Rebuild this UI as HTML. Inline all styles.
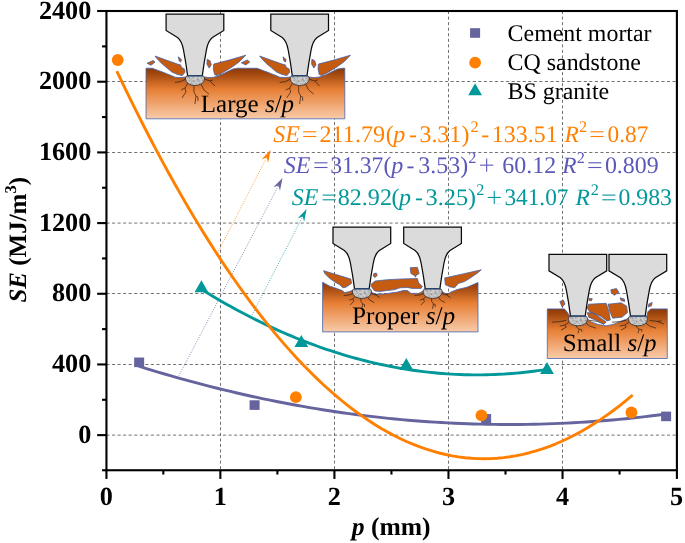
<!DOCTYPE html>
<html><head><meta charset="utf-8"><title>SE vs p</title>
<style>html,body{margin:0;padding:0;background:#fff}body{width:685px;height:543px;overflow:hidden;font-family:"Liberation Serif",serif}svg{display:block;will-change:transform}svg text{text-rendering:geometricPrecision}</style>
</head><body>
<svg width="685" height="543" viewBox="0 0 685 543">
<defs>
<linearGradient id="rock" x1="0" y1="0" x2="0" y2="1">
<stop offset="0" stop-color="#8A3A0C"/>
<stop offset="0.12" stop-color="#A4490F"/>
<stop offset="0.42" stop-color="#E77F35"/>
<stop offset="1" stop-color="#F8CBAA"/>
</linearGradient>
<pattern id="crush" width="10" height="10" patternUnits="userSpaceOnUse" patternTransform="rotate(17)">
<rect width="10" height="10" fill="#CBCBCB"/>
<circle cx="4.5" cy="5.6" r="0.41" fill="#9a9a9a"/>
<circle cx="5.1" cy="5.9" r="0.50" fill="#6e6e6e"/>
<circle cx="4.8" cy="6.1" r="0.31" fill="#6e6e6e"/>
<circle cx="3.0" cy="0.9" r="0.52" fill="#9a9a9a"/>
<circle cx="6.3" cy="6.0" r="0.54" fill="#f4f4f4"/>
<circle cx="6.5" cy="6.2" r="0.45" fill="#6e6e6e"/>
<circle cx="8.3" cy="0.6" r="0.33" fill="#5a5a5a"/>
<circle cx="2.4" cy="0.3" r="0.37" fill="#f4f4f4"/>
<circle cx="5.9" cy="2.0" r="0.45" fill="#6e6e6e"/>
<circle cx="5.0" cy="6.6" r="0.46" fill="#f4f4f4"/>
<circle cx="4.1" cy="5.5" r="0.30" fill="#9a9a9a"/>
<circle cx="2.5" cy="7.6" r="0.36" fill="#ededed"/>
<circle cx="0.7" cy="7.7" r="0.31" fill="#f4f4f4"/>
<circle cx="2.9" cy="0.7" r="0.51" fill="#5a5a5a"/>
<circle cx="0.0" cy="2.1" r="0.41" fill="#5a5a5a"/>
<circle cx="9.8" cy="4.0" r="0.43" fill="#5a5a5a"/>
<circle cx="2.0" cy="6.7" r="0.30" fill="#8a8a8a"/>
<circle cx="3.3" cy="9.6" r="0.53" fill="#9a9a9a"/>
<circle cx="1.3" cy="7.1" r="0.30" fill="#5a5a5a"/>
<circle cx="8.0" cy="1.8" r="0.33" fill="#ededed"/>
<circle cx="5.1" cy="9.9" r="0.32" fill="#9a9a9a"/>
<circle cx="6.4" cy="1.2" r="0.55" fill="#f4f4f4"/>
<circle cx="0.0" cy="8.6" r="0.44" fill="#9a9a9a"/>
<circle cx="10.0" cy="0.2" r="0.39" fill="#6e6e6e"/>
<circle cx="8.5" cy="6.4" r="0.29" fill="#5a5a5a"/>
<circle cx="1.5" cy="4.4" r="0.49" fill="#5a5a5a"/>
<circle cx="3.3" cy="3.0" r="0.30" fill="#5a5a5a"/>
<circle cx="2.1" cy="6.4" r="0.44" fill="#5a5a5a"/>
<circle cx="3.7" cy="4.5" r="0.41" fill="#ededed"/>
<circle cx="5.7" cy="8.7" r="0.45" fill="#6e6e6e"/>
<circle cx="3.1" cy="2.3" r="0.35" fill="#ededed"/>
<circle cx="1.9" cy="7.4" r="0.33" fill="#ededed"/>
<circle cx="9.5" cy="8.8" r="0.30" fill="#ededed"/>
<circle cx="0.5" cy="1.1" r="0.54" fill="#ededed"/>
<circle cx="2.4" cy="7.0" r="0.39" fill="#8a8a8a"/>
<circle cx="9.0" cy="4.9" r="0.33" fill="#ededed"/>
<circle cx="7.2" cy="0.7" r="0.41" fill="#6e6e6e"/>
<circle cx="6.5" cy="6.2" r="0.36" fill="#5a5a5a"/>
<circle cx="9.2" cy="2.0" r="0.30" fill="#5a5a5a"/>
<circle cx="4.1" cy="2.5" r="0.33" fill="#5a5a5a"/>
<circle cx="3.7" cy="5.7" r="0.30" fill="#6e6e6e"/>
<circle cx="1.4" cy="4.5" r="0.46" fill="#8a8a8a"/>
<circle cx="6.9" cy="5.8" r="0.44" fill="#6e6e6e"/>
<circle cx="9.2" cy="4.7" r="0.47" fill="#8a8a8a"/>
<circle cx="9.6" cy="0.2" r="0.30" fill="#7a7a7a"/>
<circle cx="0.7" cy="3.1" r="0.55" fill="#6e6e6e"/>
<circle cx="0.8" cy="5.5" r="0.29" fill="#7a7a7a"/>
<circle cx="9.4" cy="7.4" r="0.49" fill="#6e6e6e"/>
<circle cx="9.2" cy="3.5" r="0.41" fill="#7a7a7a"/>
<circle cx="0.8" cy="8.6" r="0.29" fill="#9a9a9a"/>
<circle cx="5.0" cy="0.1" r="0.38" fill="#7a7a7a"/>
<circle cx="5.8" cy="6.1" r="0.30" fill="#5a5a5a"/>
<circle cx="1.2" cy="2.6" r="0.48" fill="#f4f4f4"/>
<circle cx="3.9" cy="7.4" r="0.40" fill="#ededed"/>
<circle cx="4.6" cy="5.4" r="0.48" fill="#ededed"/>
<circle cx="0.3" cy="6.0" r="0.29" fill="#f4f4f4"/>
<circle cx="9.6" cy="1.1" r="0.45" fill="#9a9a9a"/>
<circle cx="9.2" cy="2.6" r="0.38" fill="#5a5a5a"/>
<circle cx="1.4" cy="6.1" r="0.33" fill="#ededed"/>
<circle cx="9.1" cy="6.6" r="0.41" fill="#f4f4f4"/>
<circle cx="2.4" cy="4.0" r="0.33" fill="#8a8a8a"/>
<circle cx="4.3" cy="8.1" r="0.52" fill="#6e6e6e"/>
<circle cx="3.8" cy="5.8" r="0.34" fill="#8a8a8a"/>
<circle cx="1.3" cy="3.5" r="0.29" fill="#9a9a9a"/>
<circle cx="0.6" cy="9.8" r="0.33" fill="#9a9a9a"/>
<circle cx="4.5" cy="2.8" r="0.50" fill="#6e6e6e"/>
<circle cx="3.8" cy="5.2" r="0.37" fill="#7a7a7a"/>
<circle cx="8.4" cy="9.8" r="0.37" fill="#f4f4f4"/>
<circle cx="8.3" cy="2.8" r="0.29" fill="#ededed"/>
<circle cx="7.1" cy="5.7" r="0.46" fill="#8a8a8a"/>
</pattern>
<g id="cutter">
<path d="M0.3,0 H58 V16.5 L46.6,23.4 C43.2,26 41.6,30.4 40.6,36 L38.4,48.5 L36.5,61.7 H21.8 L19.9,48.5 L17.7,36 C16.7,30.4 15.1,26 11.7,23.4 L0.3,16.5 Z" fill="#DBDBDB" stroke="#0a0a0a" stroke-width="1.25" stroke-linejoin="miter"/>
<path d="M21.4,61.9 H37 C38.5,62.3 38.8,63.6 38.7,65 C38.3,69 34.4,71.4 29.2,71.4 C24,71.4 20.1,69 19.7,65 C19.6,63.6 19.9,62.3 21.4,61.9 Z" fill="url(#crush)" stroke="#2c2c2c" stroke-width="0.85"/>
<path d="M21.4,61.8 H36.9" stroke="#2F5597" stroke-width="1" fill="none"/>
</g>
</defs>
<rect width="685" height="543" fill="#fff"/>
<g stroke="#5a5a5a" stroke-width="0.85" stroke-dasharray="3.1 2.45" fill="none">
<line x1="220.5" y1="11" x2="220.5" y2="470.25"/>
<line x1="334.5" y1="11" x2="334.5" y2="470.25"/>
<line x1="448.5" y1="11" x2="448.5" y2="470.25"/>
<line x1="562.5" y1="11" x2="562.5" y2="470.25"/>
<line x1="106.45" y1="435.13" x2="676.9" y2="435.13"/>
<line x1="106.45" y1="364.5" x2="676.9" y2="364.5"/>
<line x1="106.45" y1="293.5" x2="676.9" y2="293.5"/>
<line x1="106.45" y1="223.09" x2="676.9" y2="223.09"/>
<line x1="106.45" y1="152.5" x2="676.9" y2="152.5"/>
<line x1="106.45" y1="81.5" x2="676.9" y2="81.5"/>
</g>
<line x1="217.6" y1="253" x2="266.71" y2="157.46" stroke="#FF8000" stroke-width="0.75" stroke-dasharray="1 1.4"/>
<path d="M270.6,149.9 L268.18,162.71 L266.71,157.46 L261.59,159.33 Z" fill="#FF8000"/>
<line x1="178.6" y1="376.2" x2="278.55" y2="185.53" stroke="#65649E" stroke-width="0.75" stroke-dasharray="1 1.4"/>
<path d="M282.5,178 L279.97,190.79 L278.55,185.53 L273.42,187.35 Z" fill="#65649E"/>
<line x1="251.9" y1="315.1" x2="302.7" y2="216.56" stroke="#029899" stroke-width="0.75" stroke-dasharray="1 1.4"/>
<path d="M306.6,209 L304.16,221.81 L302.7,216.56 L297.58,218.41 Z" fill="#029899"/>
<polyline points="138.24,365.96 144.82,368.02 151.41,370.05 158,372.03 164.58,373.99 171.17,375.9 177.76,377.78 184.35,379.62 190.93,381.42 197.52,383.19 204.11,384.92 210.69,386.61 217.28,388.26 223.87,389.88 230.45,391.46 237.04,393.01 243.63,394.52 250.22,395.99 256.8,397.42 263.39,398.82 269.98,400.18 276.56,401.5 283.15,402.79 289.74,404.04 296.32,405.25 302.91,406.42 309.5,407.56 316.08,408.66 322.67,409.73 329.26,410.75 335.85,411.74 342.43,412.7 349.02,413.61 355.61,414.49 362.19,415.33 368.78,416.14 375.37,416.91 381.95,417.64 388.54,418.33 395.13,418.99 401.72,419.61 408.3,420.19 414.89,420.74 421.48,421.25 428.06,421.72 434.65,422.16 441.24,422.55 447.82,422.92 454.41,423.24 461,423.53 467.59,423.78 474.17,423.99 480.76,424.17 487.35,424.31 493.93,424.41 500.52,424.48 507.11,424.51 513.69,424.5 520.28,424.45 526.87,424.37 533.45,424.25 540.04,424.09 546.63,423.9 553.22,423.67 559.8,423.4 566.39,423.1 572.98,422.76 579.56,422.38 586.15,421.97 592.74,421.51 599.32,421.03 605.91,420.5 612.5,419.94 619.09,419.34 625.67,418.7 632.26,418.03 638.85,417.32 645.43,416.57 652.02,415.78 658.61,414.96 665.19,414.1" fill="none" stroke="#65649E" stroke-width="2.9" stroke-linejoin="round"/>
<polyline points="200.97,289.06 205.29,291.72 209.61,294.34 213.93,296.92 218.25,299.46 222.57,301.96 226.89,304.41 231.21,306.83 235.53,309.2 239.85,311.53 244.17,313.81 248.49,316.06 252.81,318.26 257.13,320.42 261.45,322.54 265.77,324.61 270.09,326.65 274.41,328.64 278.73,330.59 283.05,332.5 287.37,334.37 291.69,336.19 296.01,337.97 300.33,339.71 304.65,341.41 308.97,343.07 313.29,344.68 317.61,346.25 321.93,347.78 326.25,349.27 330.57,350.72 334.89,352.12 339.21,353.48 343.53,354.8 347.85,356.08 352.17,357.31 356.49,358.51 360.81,359.66 365.13,360.77 369.45,361.84 373.77,362.86 378.09,363.85 382.41,364.79 386.73,365.69 391.05,366.54 395.37,367.36 399.69,368.13 404.01,368.86 408.33,369.55 412.65,370.2 416.97,370.81 421.29,371.37 425.61,371.89 429.93,372.37 434.25,372.81 438.57,373.2 442.89,373.55 447.21,373.86 451.53,374.13 455.85,374.36 460.17,374.54 464.49,374.69 468.81,374.79 473.13,374.85 477.45,374.86 481.77,374.84 486.09,374.77 490.41,374.66 494.73,374.51 499.05,374.32 503.37,374.08 507.69,373.8 512.01,373.48 516.33,373.12 520.65,372.72 524.97,372.27 529.29,371.78 533.61,371.25 537.93,370.68 542.25,370.07 546.57,369.41" fill="none" stroke="#029899" stroke-width="2.9" stroke-linejoin="round"/>
<polyline points="116.79,71.18 123.24,84.68 129.69,97.94 136.14,110.96 142.59,123.74 149.04,136.28 155.49,148.58 161.93,160.64 168.38,172.47 174.83,184.05 181.28,195.4 187.73,206.5 194.18,217.37 200.63,227.99 207.07,238.38 213.52,248.53 219.97,258.44 226.42,268.11 232.87,277.54 239.32,286.73 245.77,295.68 252.22,304.4 258.66,312.87 265.11,321.1 271.56,329.1 278.01,336.85 284.46,344.37 290.91,351.65 297.36,358.69 303.8,365.49 310.25,372.04 316.7,378.37 323.15,384.45 329.6,390.29 336.05,395.89 342.5,401.25 348.95,406.38 355.39,411.26 361.84,415.91 368.29,420.32 374.74,424.48 381.19,428.41 387.64,432.1 394.09,435.55 400.53,438.76 406.98,441.73 413.43,444.46 419.88,446.95 426.33,449.21 432.78,451.22 439.23,453 445.68,454.53 452.12,455.83 458.57,456.88 465.02,457.7 471.47,458.28 477.92,458.62 484.37,458.72 490.82,458.58 497.26,458.2 503.71,457.58 510.16,456.73 516.61,455.63 523.06,454.3 529.51,452.72 535.96,450.91 542.41,448.85 548.85,446.56 555.3,444.03 561.75,441.26 568.2,438.25 574.65,435 581.1,431.51 587.55,427.78 593.99,423.82 600.44,419.61 606.89,415.16 613.34,410.48 619.79,405.55 626.24,400.39 632.69,394.99" fill="none" stroke="#FF8000" stroke-width="2.9" stroke-linejoin="round"/>
<rect x="134.15" y="357.53" width="10" height="9.6" fill="#65649E"/>
<rect x="249.58" y="400.29" width="10" height="9.6" fill="#65649E"/>
<rect x="481.12" y="414.07" width="10" height="9.6" fill="#65649E"/>
<rect x="661.11" y="411.6" width="10" height="9.6" fill="#65649E"/>
<path d="M201.43,280.19 L208.33,292.19 L194.53,292.19 Z" fill="#029899"/>
<path d="M301.34,334.96 L308.24,346.96 L294.44,346.96 Z" fill="#029899"/>
<path d="M406.28,357.93 L413.18,369.93 L399.38,369.93 Z" fill="#029899"/>
<path d="M547.03,362 L553.93,374 L540.13,374 Z" fill="#029899"/>
<circle cx="117.71" cy="60" r="5.9" fill="#FF8000"/>
<circle cx="295.87" cy="397.14" r="5.9" fill="#FF8000"/>
<circle cx="481.44" cy="415.34" r="5.9" fill="#FF8000"/>
<circle cx="631.43" cy="412.51" r="5.9" fill="#FF8000"/>
<path d="M146,68.2 L152.6,68.3 L158,70.4 L162.5,72 L167.1,73.9 L171.5,75.6 L175.1,77.2 L180,77.6 L185.6,77 L204.3,77 L209,77.6 L213.7,77.2 L220.1,75.3 L226.5,72.1 L232.9,69 L237.7,68.2 L257.3,68.3 L262.7,70.4 L267.2,72 L271.8,73.9 L276.2,75.6 L279.8,77.2 L284.7,77.6 L290.3,77 L309,77 L313.7,77.6 L318.4,77.2 L324.8,75.3 L331.2,72.1 L337.6,69 L342.4,68.2 L344.8,68.2 L344.8,118.8 L146,118.8 Z" fill="url(#rock)" stroke="#4665B0" stroke-width="0.8" stroke-linejoin="round"/>
<polyline points="185.95,79 180.95,81.5 174.95,82.5" fill="none" stroke="#2e1c12" stroke-width="0.7" stroke-linejoin="round"/>
<polyline points="187.95,83 184.95,88 185.95,92 181.95,98" fill="none" stroke="#2e1c12" stroke-width="0.7" stroke-linejoin="round"/>
<polyline points="184.95,88 180.95,90" fill="none" stroke="#2e1c12" stroke-width="0.7" stroke-linejoin="round"/>
<polyline points="193.95,85.5 193.95,92 195.95,96 194.95,104" fill="none" stroke="#2e1c12" stroke-width="0.7" stroke-linejoin="round"/>
<polyline points="195.95,96 197.95,97 197.95,101" fill="none" stroke="#2e1c12" stroke-width="0.7" stroke-linejoin="round"/>
<polyline points="200.95,84 203.95,90 208.95,94" fill="none" stroke="#2e1c12" stroke-width="0.7" stroke-linejoin="round"/>
<polyline points="203.95,79 209.95,81 214.95,86" fill="none" stroke="#2e1c12" stroke-width="0.7" stroke-linejoin="round"/>
<polyline points="209.95,81 212.95,80" fill="none" stroke="#2e1c12" stroke-width="0.7" stroke-linejoin="round"/>
<polyline points="290.65,79 285.65,81.5 279.65,82.5" fill="none" stroke="#2e1c12" stroke-width="0.7" stroke-linejoin="round"/>
<polyline points="292.65,83 289.65,88 290.65,92 286.65,98" fill="none" stroke="#2e1c12" stroke-width="0.7" stroke-linejoin="round"/>
<polyline points="289.65,88 285.65,90" fill="none" stroke="#2e1c12" stroke-width="0.7" stroke-linejoin="round"/>
<polyline points="298.65,85.5 298.65,92 300.65,96 299.65,104" fill="none" stroke="#2e1c12" stroke-width="0.7" stroke-linejoin="round"/>
<polyline points="300.65,96 302.65,97 302.65,101" fill="none" stroke="#2e1c12" stroke-width="0.7" stroke-linejoin="round"/>
<polyline points="305.65,84 308.65,90 313.65,94" fill="none" stroke="#2e1c12" stroke-width="0.7" stroke-linejoin="round"/>
<polyline points="308.65,79 314.65,81 319.65,86" fill="none" stroke="#2e1c12" stroke-width="0.7" stroke-linejoin="round"/>
<polyline points="314.65,81 317.65,80" fill="none" stroke="#2e1c12" stroke-width="0.7" stroke-linejoin="round"/>
<path d="M155,56 L166,60 L177.5,64.1 L180.7,64.9 L181.5,67.3 L184.4,68.9 L185.1,72.1 L182.3,75.6 L177.5,74.5 L171.9,72.1 L167.1,68.1 L162.3,64.1 L157.5,59.2 Z M147,63.3 L153,60.5 L155,62.1 L151,65.3 Z M178.3,56.8 L181.5,59.6 L180.7,62.1 L179.1,60.8 Z M207.2,59.2 L210.1,60.8 L211.3,64.9 L209.2,68.1 L206.9,64.1 Z M213.7,64.1 L230,59.8 L245.8,55.2 L239.4,61.7 L232.9,66.5 L226.5,70.5 L220.9,73.7 L216.9,75.6 L214.5,74.5 L213.3,68.9 Z M241.3,62.8 L247.4,60 L249.8,62.1 L245.8,64.9 Z" fill="#C55A11" stroke="#3D5FA8" stroke-width="0.75" stroke-linejoin="round"/>
<path d="M259.7,56 L270.7,60 L282.2,64.1 L285.4,64.9 L286.2,67.3 L289.1,68.9 L289.8,72.1 L287,75.6 L282.2,74.5 L276.6,72.1 L271.8,68.1 L267,64.1 L262.2,59.2 Z M283,56.8 L286.2,59.6 L285.4,62.1 L283.8,60.8 Z M311.9,59.2 L314.8,60.8 L316,64.9 L313.9,68.1 L311.6,64.1 Z M318.4,64.1 L334.7,59.8 L350.5,55.2 L344.1,61.7 L337.6,66.5 L331.2,70.5 L325.6,73.7 L321.6,75.6 L319.2,74.5 L318,68.9 Z" fill="#C55A11" stroke="#3D5FA8" stroke-width="0.75" stroke-linejoin="round"/>
<use href="#cutter" x="165.8" y="14"/>
<use href="#cutter" x="270.5" y="14"/>
<text x="200.8" y="111.6" font-family='"Liberation Serif", serif' font-size="25" fill="#000">Large <tspan font-style="italic">s</tspan>/<tspan font-style="italic">p</tspan></text>
<path d="M322.6,282.2 L329.2,285.9 L336.6,288.4 L342.2,290.5 L344.7,292.5 L349,291.7 L352.7,290.3 L370.1,291.5 L376.3,294.6 L387.5,293.4 L397.4,292.1 L403,290.6 L407.4,290.5 L411.2,293.4 L418.6,293.4 L423.6,290.9 L441.6,291.5 L447.1,294.2 L450.9,292.1 L457.1,289.6 L467,287.2 L474.4,284.1 L478,282.5 L478,331.9 L322.6,331.9 Z" fill="url(#rock)" stroke="#4665B0" stroke-width="0.8" stroke-linejoin="round"/>
<polyline points="353.7,293.36 349.2,294.91 343.8,295.53" fill="none" stroke="#2e1c12" stroke-width="0.7" stroke-linejoin="round"/>
<polyline points="355.5,295.84 352.8,298.94 353.7,301.42 350.1,305.14" fill="none" stroke="#2e1c12" stroke-width="0.7" stroke-linejoin="round"/>
<polyline points="352.8,298.94 349.2,300.18" fill="none" stroke="#2e1c12" stroke-width="0.7" stroke-linejoin="round"/>
<polyline points="360.9,297.39 360.9,301.42 362.7,303.9 361.8,308.86" fill="none" stroke="#2e1c12" stroke-width="0.7" stroke-linejoin="round"/>
<polyline points="362.7,303.9 364.5,304.52 364.5,307" fill="none" stroke="#2e1c12" stroke-width="0.7" stroke-linejoin="round"/>
<polyline points="367.2,296.46 369.9,300.18 374.4,302.66" fill="none" stroke="#2e1c12" stroke-width="0.7" stroke-linejoin="round"/>
<polyline points="369.9,293.36 375.3,294.6 379.8,297.7" fill="none" stroke="#2e1c12" stroke-width="0.7" stroke-linejoin="round"/>
<polyline points="375.3,294.6 378,293.98" fill="none" stroke="#2e1c12" stroke-width="0.7" stroke-linejoin="round"/>
<polyline points="424.4,293.36 419.9,294.91 414.5,295.53" fill="none" stroke="#2e1c12" stroke-width="0.7" stroke-linejoin="round"/>
<polyline points="426.2,295.84 423.5,298.94 424.4,301.42 420.8,305.14" fill="none" stroke="#2e1c12" stroke-width="0.7" stroke-linejoin="round"/>
<polyline points="423.5,298.94 419.9,300.18" fill="none" stroke="#2e1c12" stroke-width="0.7" stroke-linejoin="round"/>
<polyline points="431.6,297.39 431.6,301.42 433.4,303.9 432.5,308.86" fill="none" stroke="#2e1c12" stroke-width="0.7" stroke-linejoin="round"/>
<polyline points="433.4,303.9 435.2,304.52 435.2,307" fill="none" stroke="#2e1c12" stroke-width="0.7" stroke-linejoin="round"/>
<polyline points="437.9,296.46 440.6,300.18 445.1,302.66" fill="none" stroke="#2e1c12" stroke-width="0.7" stroke-linejoin="round"/>
<polyline points="440.6,293.36 446,294.6 450.5,297.7" fill="none" stroke="#2e1c12" stroke-width="0.7" stroke-linejoin="round"/>
<polyline points="446,294.6 448.7,293.98" fill="none" stroke="#2e1c12" stroke-width="0.7" stroke-linejoin="round"/>
<path d="M323.6,270.7 L337,274.8 L350.9,279.1 L351.5,283.4 L345.9,287.2 L342.8,287.8 L339.7,284.7 L334.1,281.6 L329.2,277.9 L324.8,273.5 Z M373.8,273.5 L376.3,273.1 L377.3,275.4 L374.8,277.6 L373.2,276 Z M371.3,284.1 L375.1,281 L387.5,279.7 L403,278.9 L417.4,278.5 L418.6,282.8 L422.3,286.5 L421.1,288.4 L412.4,288.4 L407.4,287.5 L400,287.8 L394.9,289.6 L387.5,290.5 L380,291.5 L374.5,290.9 L371.3,286.5 Z M410.2,267.7 L417.4,267.3 L419.2,273.5 L416.1,275.4 L415.5,277.2 L414.3,275.4 L410.9,273.5 Z M444.7,277.9 L463,273.9 L481.3,269.8 L476.9,273.5 L469.5,278.5 L464.5,281.6 L458.3,283.4 L454.6,287.8 L449.6,286.8 L445.3,284.7 Z" fill="#C55A11" stroke="#3D5FA8" stroke-width="0.75" stroke-linejoin="round"/>
<use href="#cutter" x="332.7" y="227"/>
<use href="#cutter" x="403.4" y="227"/>
<text x="351.9" y="323.6" font-family='"Liberation Serif", serif' font-size="25.3" fill="#000">Proper <tspan font-style="italic">s</tspan>/<tspan font-style="italic">p</tspan></text>
<path d="M547.3,308.9 L564.5,308.9 L566.9,311.7 L570,316.6 L584.9,316.6 L591.3,321.9 L598,324.4 L606.2,325.8 L613,324.4 L619.2,321.9 L626.6,319.1 L630.3,316.6 L646.6,316.6 L647.9,311.7 L650.7,308.9 L667.3,308.9 L667.3,358.5 L547.3,358.5 Z" fill="url(#rock)" stroke="#4665B0" stroke-width="0.8" stroke-linejoin="round"/>
<polyline points="566.2,320.36 559.7,321.66 551.9,322.18" fill="none" stroke="#2e1c12" stroke-width="0.7" stroke-linejoin="round"/>
<polyline points="568.8,322.44 564.9,325.04 566.2,327.12 561,330.24" fill="none" stroke="#2e1c12" stroke-width="0.7" stroke-linejoin="round"/>
<polyline points="564.9,325.04 559.7,326.08" fill="none" stroke="#2e1c12" stroke-width="0.7" stroke-linejoin="round"/>
<polyline points="576.6,323.74 576.6,327.12 579.2,329.2 577.9,333.36" fill="none" stroke="#2e1c12" stroke-width="0.7" stroke-linejoin="round"/>
<polyline points="579.2,329.2 581.8,329.72 581.8,331.8" fill="none" stroke="#2e1c12" stroke-width="0.7" stroke-linejoin="round"/>
<polyline points="585.7,322.96 589.6,326.08 596.1,328.16" fill="none" stroke="#2e1c12" stroke-width="0.7" stroke-linejoin="round"/>
<polyline points="589.6,320.36 597.4,321.4 603.9,324" fill="none" stroke="#2e1c12" stroke-width="0.7" stroke-linejoin="round"/>
<polyline points="597.4,321.4 601.3,320.88" fill="none" stroke="#2e1c12" stroke-width="0.7" stroke-linejoin="round"/>
<polyline points="626.2,320.36 619.7,321.66 611.9,322.18" fill="none" stroke="#2e1c12" stroke-width="0.7" stroke-linejoin="round"/>
<polyline points="628.8,322.44 624.9,325.04 626.2,327.12 621,330.24" fill="none" stroke="#2e1c12" stroke-width="0.7" stroke-linejoin="round"/>
<polyline points="624.9,325.04 619.7,326.08" fill="none" stroke="#2e1c12" stroke-width="0.7" stroke-linejoin="round"/>
<polyline points="636.6,323.74 636.6,327.12 639.2,329.2 637.9,333.36" fill="none" stroke="#2e1c12" stroke-width="0.7" stroke-linejoin="round"/>
<polyline points="639.2,329.2 641.8,329.72 641.8,331.8" fill="none" stroke="#2e1c12" stroke-width="0.7" stroke-linejoin="round"/>
<polyline points="645.7,322.96 649.6,326.08 656.1,328.16" fill="none" stroke="#2e1c12" stroke-width="0.7" stroke-linejoin="round"/>
<polyline points="649.6,320.36 657.4,321.4 663.9,324" fill="none" stroke="#2e1c12" stroke-width="0.7" stroke-linejoin="round"/>
<polyline points="657.4,321.4 661.3,320.88" fill="none" stroke="#2e1c12" stroke-width="0.7" stroke-linejoin="round"/>
<path d="M588.6,304.2 L606.2,303.3 L609,311.7 L610.3,320 L607.1,320.9 L600.6,316.3 L589.5,311.7 L587.3,308 Z M608,304.2 L621,302.8 L626.6,306.1 L627.5,312.6 L621.9,317.2 L612.7,318.2 L609.9,311.7 Z M587.3,312.6 L593.6,313.1 L606.2,321.9 L604,324.3 L595.1,320 L588.6,317.2 Z M610.8,289.8 L616.4,288.5 L618.8,292.2 L614.5,295.3 L611.4,293.1 Z M620.1,297.8 L624.3,299.1 L624.7,301.5 L621,300.5 Z M589.1,298.3 L592.3,298.7 L591.3,300.9 L589.1,300.5 Z M559.8,301.5 L563.5,300.2 L565,304.2 L562.1,307 Z M648.8,303.9 L652.2,302.4 L651.6,305.7 L648.4,307 Z" fill="#C55A11" stroke="#3D5FA8" stroke-width="0.75" stroke-linejoin="round"/>
<use href="#cutter" x="548.7" y="254.4"/>
<use href="#cutter" x="608.7" y="254.4"/>
<text x="562.8" y="351.4" font-family='"Liberation Serif", serif' font-size="25" fill="#000">Small <tspan font-style="italic">s</tspan>/<tspan font-style="italic">p</tspan></text>
<g stroke="#000" stroke-width="2.1" fill="none" stroke-linecap="butt">
<rect x="106.45" y="11" width="570.45" height="459.25"/>
<line x1="102.05" y1="470.25" x2="106.45" y2="470.25"/>
<line x1="97.15" y1="435.13" x2="106.45" y2="435.13"/>
<line x1="102.05" y1="399.79" x2="106.45" y2="399.79"/>
<line x1="97.15" y1="364.45" x2="106.45" y2="364.45"/>
<line x1="102.05" y1="329.11" x2="106.45" y2="329.11"/>
<line x1="97.15" y1="293.77" x2="106.45" y2="293.77"/>
<line x1="102.05" y1="258.43" x2="106.45" y2="258.43"/>
<line x1="97.15" y1="223.09" x2="106.45" y2="223.09"/>
<line x1="102.05" y1="187.75" x2="106.45" y2="187.75"/>
<line x1="97.15" y1="152.41" x2="106.45" y2="152.41"/>
<line x1="102.05" y1="117.07" x2="106.45" y2="117.07"/>
<line x1="97.15" y1="81.73" x2="106.45" y2="81.73"/>
<line x1="102.05" y1="46.39" x2="106.45" y2="46.39"/>
<line x1="97.15" y1="11" x2="106.45" y2="11"/>
<line x1="106.45" y1="470.25" x2="106.45" y2="478.95"/>
<line x1="163.33" y1="470.25" x2="163.33" y2="474.55"/>
<line x1="220.36" y1="470.25" x2="220.36" y2="478.95"/>
<line x1="277.39" y1="470.25" x2="277.39" y2="474.55"/>
<line x1="334.42" y1="470.25" x2="334.42" y2="478.95"/>
<line x1="391.45" y1="470.25" x2="391.45" y2="474.55"/>
<line x1="448.48" y1="470.25" x2="448.48" y2="478.95"/>
<line x1="505.51" y1="470.25" x2="505.51" y2="474.55"/>
<line x1="562.54" y1="470.25" x2="562.54" y2="478.95"/>
<line x1="619.57" y1="470.25" x2="619.57" y2="474.55"/>
<line x1="676.9" y1="470.25" x2="676.9" y2="478.95"/>
</g>
<g font-family='"Liberation Serif", serif' font-weight="bold" font-size="26.2" fill="#000">
<text x="91.3" y="442.83" text-anchor="end">0</text>
<text x="91.3" y="372.15" text-anchor="end">400</text>
<text x="91.3" y="301.47" text-anchor="end">800</text>
<text x="91.3" y="230.79" text-anchor="end">1200</text>
<text x="91.3" y="160.11" text-anchor="end">1600</text>
<text x="91.3" y="89.43" text-anchor="end">2000</text>
<text x="91.3" y="18.75" text-anchor="end">2400</text>
<text x="106.3" y="505" text-anchor="middle">0</text>
<text x="220.36" y="505" text-anchor="middle">1</text>
<text x="334.42" y="505" text-anchor="middle">2</text>
<text x="448.48" y="505" text-anchor="middle">3</text>
<text x="562.54" y="505" text-anchor="middle">4</text>
<text x="676.6" y="505" text-anchor="middle">5</text>
</g>
<text x="391.2" y="535" text-anchor="middle" font-family='"Liberation Serif", serif' font-weight="bold" font-size="25.6" fill="#000"><tspan font-style="italic">p</tspan> (mm)</text>
<text transform="translate(25.8,239.8) rotate(-90)" text-anchor="middle" font-family='"Liberation Serif", serif' font-weight="bold" font-size="25" fill="#000"><tspan font-style="italic">SE</tspan> (MJ/m<tspan font-size="16.5" dy="-9.5">3</tspan><tspan dy="9.5">)</tspan></text>
<rect x="470.1" y="28.2" width="10" height="9.6" fill="#65649E"/>
<circle cx="475.1" cy="62.7" r="5.9" fill="#FF8000"/>
<path d="M475.1,83.2 L482,95.2 L468.2,95.2 Z" fill="#029899"/>
<g font-family='"Liberation Serif", serif' font-size="23.9" fill="#000">
<text x="507.6" y="40.9">Cement mortar</text>
<text x="507.6" y="70.1">CQ sandstone</text>
<text x="507.6" y="99.4">BS granite</text>
</g>
<g font-family='"Liberation Serif", serif' font-size="23.8" fill="#FF8000" stroke="none">
<text x="273.32" y="141.9" font-size="24" font-style="italic">SE</text>
<rect x="303.2" y="131.25" width="13.1" height="1.1"/>
<rect x="303.2" y="135.95" width="13.1" height="1.1"/>
<text transform="translate(319.54,141.9) scale(1.0153,1)">211.79</text>
<text x="385.85" y="141.9">(</text>
<text x="393.21" y="141.9" font-size="24" font-style="italic">p</text>
<text x="408.92" y="141.9">-</text>
<text transform="translate(419.46,141.9) scale(1.0030,1)">3.31</text>
<text x="461.53" y="141.9">)</text>
<text x="470.39" y="131.9" font-size="16.2">2</text>
<text x="481.22" y="141.9">-</text>
<text transform="translate(491.8,141.9) scale(1.0060,1)">133.51</text>
<text x="564.53" y="141.9" font-size="23.4" font-style="italic">R</text>
<text x="579.09" y="131.9" font-size="16.2">2</text>
<rect x="590.5" y="131.25" width="13.1" height="1.1"/>
<rect x="590.5" y="135.95" width="13.1" height="1.1"/>
<text transform="translate(607.61,141.9) scale(0.9786,1)">0.87</text>
</g>
<g font-family='"Liberation Serif", serif' font-size="23.8" fill="#5A58B8" stroke="none">
<text x="283.82" y="172.9" font-size="24" font-style="italic">SE</text>
<rect x="314.4" y="162.25" width="13.1" height="1.1"/>
<rect x="314.4" y="166.95" width="13.1" height="1.1"/>
<text transform="translate(330.17,172.9) scale(0.9937,1)">31.37</text>
<text x="383.55" y="172.9">(</text>
<text x="391.31" y="172.9" font-size="24" font-style="italic">p</text>
<text x="406.52" y="172.9">-</text>
<text transform="translate(418.25,172.9) scale(1.0106,1)">3.53</text>
<text x="460.13" y="172.9">)</text>
<text x="468.29" y="162.9" font-size="16.2">2</text>
<rect x="480.1" y="164.6" width="13.1" height="1.1"/>
<rect x="486.1" y="158.6" width="1.1" height="13.1"/>
<text transform="translate(502.17,172.9) scale(1.0075,1)">60.12</text>
<text x="562.33" y="172.9" font-size="23.4" font-style="italic">R</text>
<text x="576.69" y="162.9" font-size="16.2">2</text>
<rect x="588.3" y="162.25" width="13.1" height="1.1"/>
<rect x="588.3" y="166.95" width="13.1" height="1.1"/>
<text transform="translate(604.89,172.9) scale(1.0045,1)">0.809</text>
</g>
<g font-family='"Liberation Serif", serif' font-size="23.8" fill="#029899" stroke="none">
<text x="291.82" y="205.2" font-size="24" font-style="italic">SE</text>
<rect x="322.6" y="194.55" width="13.1" height="1.1"/>
<rect x="322.6" y="199.25" width="13.1" height="1.1"/>
<text transform="translate(337.78,205.2) scale(1.0111,1)">82.92</text>
<text x="391.55" y="205.2">(</text>
<text x="399.01" y="205.2" font-size="24" font-style="italic">p</text>
<text x="415.12" y="205.2">-</text>
<text transform="translate(425.43,205.2) scale(1.0257,1)">3.25</text>
<text x="468.03" y="205.2">)</text>
<text x="476.19" y="195.2" font-size="16.2">2</text>
<rect x="487.7" y="196.9" width="13.1" height="1.1"/>
<rect x="493.7" y="190.9" width="1.1" height="13.1"/>
<text transform="translate(504.38,205.2) scale(0.9792,1)">341.07</text>
<text x="575.53" y="205.2" font-size="23.4" font-style="italic">R</text>
<text x="590.79" y="195.2" font-size="16.2">2</text>
<rect x="602.3" y="194.55" width="13.1" height="1.1"/>
<rect x="602.3" y="199.25" width="13.1" height="1.1"/>
<text transform="translate(618.6,205.2) scale(0.9959,1)">0.983</text>
</g>
</svg>
</body></html>
